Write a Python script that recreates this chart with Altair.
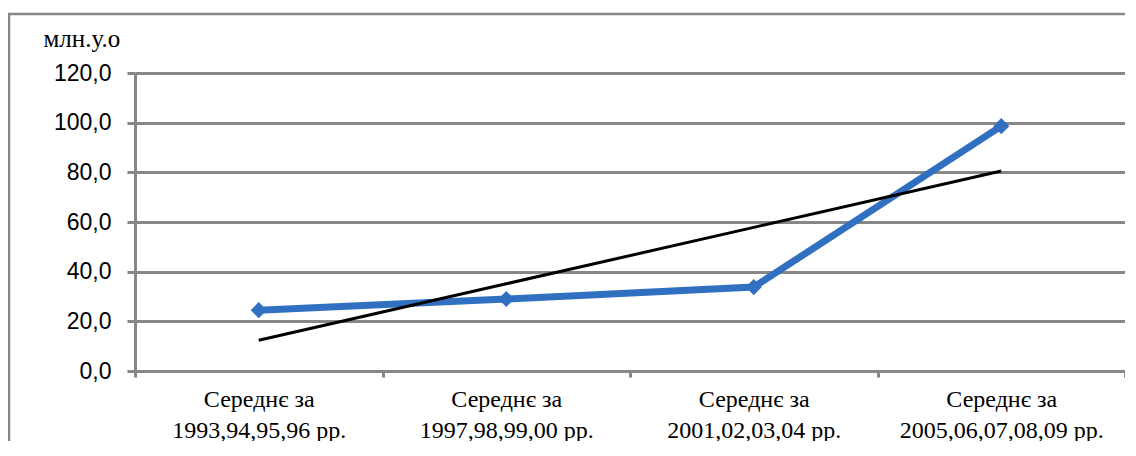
import altair as alt
import pandas as pd
import numpy as np

categories = [
    "Середнє за\n1993,94,95,96 рр.",
    "Середнє за\n1997,98,99,00 рр.",
    "Середнє за\n2001,02,03,04 рр.",
    "Середнє за\n2005,06,07,08,09 рр.",
]
values = [24.5, 29.0, 33.8, 98.6]
y_ticks = [0, 20, 40, 60, 80, 100, 120]

df = pd.DataFrame({"cat": categories, "val": values})
idx = np.arange(1, len(values) + 1)
slope, intercept = np.polyfit(idx, values, 1)
trend = pd.DataFrame({"cat": categories, "trend": slope * idx + intercept})

W, H = 990, 298
GRAY = "#878787"

xenc = alt.X(
    "cat:N",
    sort=categories,
    scale=alt.Scale(type="band", paddingInner=0, paddingOuter=0),
    axis=alt.Axis(
        title=None,
        labelExpr="split(datum.label, '\\n')",
        labelFont="Liberation Serif",
        labelFontSize=24,
        labelColor="#000000",
        labelLineHeight=31,
        labelAngle=0,
        labelPadding=10,
        labelBaseline="top",
        labelLimit=0,
        tickBand="extent",
        tickSize=6,
        tickColor=GRAY,
        tickWidth=3,
        domainColor=GRAY,
        domainWidth=3,
        grid=False,
    ),
    bandPosition=0.5,
)

yscale = alt.Scale(domain=[0, 120], nice=False)
yaxis = alt.Axis(
    values=y_ticks,
    labelExpr="replace(format(datum.value, '.1f'), '.', ',')",
    labelFont="Liberation Sans",
    labelFontSize=23,
    labelColor="#000000",
    labelPadding=16,
    tickSize=8,
    tickColor=GRAY,
    tickWidth=3,
    domainColor=GRAY,
    domainWidth=3,
    grid=True,
    gridColor=GRAY,
    gridWidth=3,
    title="млн.у.о",
    titleFont="Liberation Serif",
    titleFontSize=25,
    titleFontWeight="normal",
    titleColor="#000000",
    titleAngle=0,
    titleAlign="left",
    titleBaseline="alphabetic",
    titleX=-92,
    titleY=-27,
)

frame = alt.Chart(pd.DataFrame({"a": [0]})).mark_rect(
    fill=None, stroke=GRAY, strokeWidth=2.5
).encode(
    x=alt.value(-126), x2=alt.value(W + 60),
    y=alt.value(-59), y2=alt.value(H + 120),
)

line = alt.Chart(df).mark_line(
    color="#3170C0", strokeWidth=7,
    point=alt.OverlayMarkDef(shape="diamond", size=260, filled=True, color="#3170C0"),
).encode(
    x=xenc,
    y=alt.Y("val:Q", scale=yscale, axis=yaxis),
)

trend_line = alt.Chart(trend).mark_line(color="#000000", strokeWidth=3).encode(
    x=alt.X("cat:N", sort=categories, bandPosition=0.5),
    y=alt.Y("trend:Q", scale=yscale),
)

chart = alt.layer(frame, line, trend_line).properties(
    width=W, height=H,
    autosize=alt.AutoSizeParams(type="none"),
    padding={"left": 127, "top": 65, "right": 0, "bottom": 70},
).configure_view(stroke=None).configure(background="#ffffff")

chart.save("out.html", embed_options={"renderer": "svg", "actions": False})
